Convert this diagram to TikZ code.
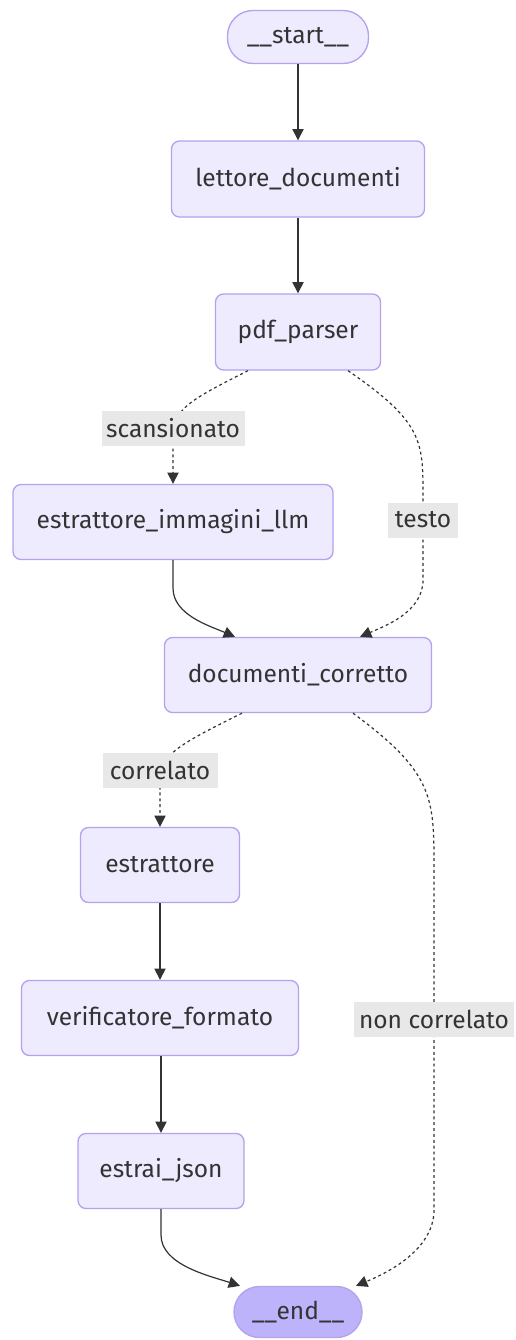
\documentclass[tikz,border=0pt]{standalone}
\usepackage{fontspec}
\setmainfont{Fira Sans}
\usetikzlibrary{arrows.meta}
\definecolor{nodefill}{HTML}{EEEBFE}
\definecolor{nodeborder}{HTML}{B7A0EE}
\definecolor{endfill}{HTML}{BDB3FB}
\definecolor{labelbg}{HTML}{E8E8E8}
\definecolor{txt}{HTML}{333333}
\definecolor{edgec}{HTML}{333333}
\tikzset{
  box/.style={draw=nodeborder, fill=nodefill, line width=1pt, rounded corners=6pt, inner sep=0pt, text=txt, font=\fontsize{18.4}{22}\selectfont},
  pill/.style={box, rounded corners=19pt},
  lbl/.style={fill=labelbg, inner sep=0pt, text=txt, font=\fontsize{18.4}{22}\selectfont},
  edge/.style={draw=edgec, line width=0.9pt, -{Triangle[length=8.5pt,width=8.5pt]}},
  dedge/.style={edge, dash pattern=on 2.2pt off 2.2pt}
}
\begin{document}
\begin{tikzpicture}[x=0.75pt,y=-0.75pt]
\useasboundingbox (0,0) rectangle (515,1340);
\node[pill, minimum width=141*0.75pt, minimum height=53*0.75pt] (start) at (298,37) {\_\_start\_\_};
\node[box, minimum width=253*0.75pt, minimum height=76*0.75pt] (lettore) at (298,179) {lettore\_documenti};
\node[box, minimum width=165*0.75pt, minimum height=76*0.75pt] (pdf) at (298,332) {pdf\_parser};
\node[box, minimum width=320*0.75pt, minimum height=75*0.75pt] (imm) at (173,522) {estrattore\_immagini\_llm};
\node[box, minimum width=267*0.75pt, minimum height=75*0.75pt] (doc) at (298,675) {documenti\_corretto};
\node[box, minimum width=159*0.75pt, minimum height=75*0.75pt] (estr) at (160,865) {estrattore};
\node[box, minimum width=277*0.75pt, minimum height=75*0.75pt] (verif) at (160,1018) {verificatore\_formato};
\node[box, minimum width=166*0.75pt, minimum height=75*0.75pt] (json) at (161,1171) {estrai\_json};
\node[pill, fill=endfill, minimum width=128*0.75pt, minimum height=51*0.75pt] (end) at (298,1312) {\_\_end\_\_};

\draw[edge] (start) -- (lettore);
\draw[edge] (lettore) -- (pdf);
\draw[dedge] ([xshift=-50*0.75pt]pdf.south) .. controls (180,405) and (173,410) .. (173,445) -- (imm.north);
\draw[dedge] ([xshift=50*0.75pt]pdf.south) .. controls (420,420) and (423,440) .. (423,490) -- (423,580) .. controls (423,612) and (385,626) .. ([xshift=62*0.75pt]doc.north);
\draw[edge] (imm.south) -- (173,588) .. controls (173,615) and (210,626) .. ([xshift=-63*0.75pt]doc.north);
\draw[dedge] ([xshift=-56*0.75pt]doc.south) .. controls (168,750) and (160,755) .. (160,790) -- (estr.north);
\draw[edge] (estr) -- (verif);
\draw[edge] (verif.south-|json) -- (json);
\draw[dedge] ([xshift=55*0.75pt]doc.south) .. controls (430,770) and (434,795) .. (434,860) -- (434,1210) .. controls (434,1252) and (382,1275) .. ([xshift=58*0.75pt]end.north);
\draw[edge] (json.south) -- (161,1235) .. controls (161,1265) and (210,1276) .. ([xshift=-58*0.75pt]end.north);

\node[lbl, minimum width=143*0.75pt, minimum height=35*0.75pt] (lscan) at (173,428) {scansionato};
\node[lbl, minimum width=70*0.75pt, minimum height=35*0.75pt] (ltesto) at (423,520) {testo};
\node[lbl, minimum width=115*0.75pt, minimum height=35*0.75pt] (lcorr) at (160,770) {correlato};
\node[lbl, minimum width=160*0.75pt, minimum height=35*0.75pt] (lnon) at (434,1019) {non correlato};
\end{tikzpicture}
\end{document}
